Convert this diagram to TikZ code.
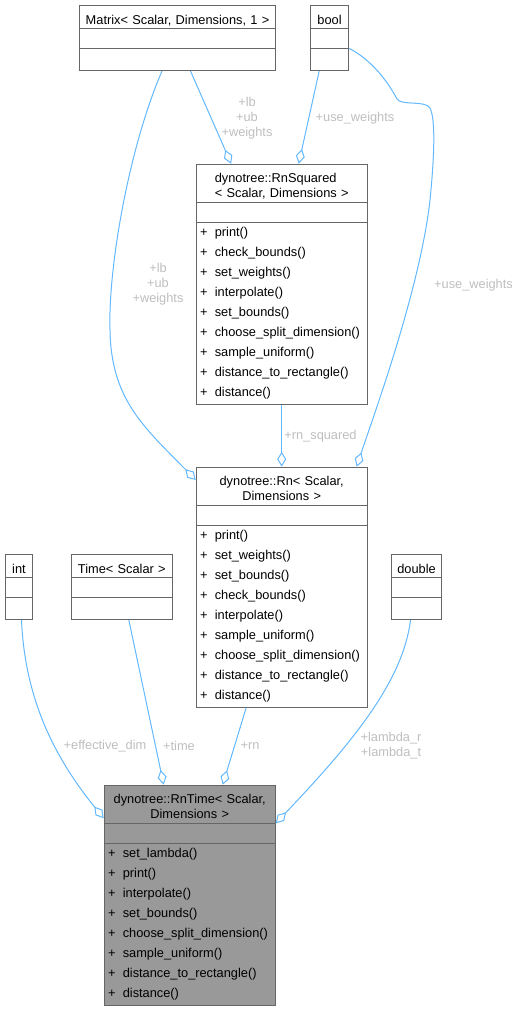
\documentclass[tikz,border=0pt]{standalone}
\usepackage{fontspec}
\setmainfont{Liberation Sans}
\usepackage{tikz}
\usetikzlibrary{shapes.multipart}
\usetikzlibrary{arrows.meta}
\setlength{\parindent}{0pt}
\setlength{\normallineskip}{0pt}
\setlength{\lineskip}{0pt}
\setlength{\lineskiplimit}{0pt}

\definecolor{boxline}{HTML}{666666}
\definecolor{boxfill}{HTML}{999999}
\definecolor{edgeblue}{HTML}{63B8FF}
\definecolor{lblgray}{HTML}{BEBEBE}

\newcommand{\clsone}[1]{\makebox[\hsize][c]{\rule[-3.5pt]{0pt}{21pt}#1}}
\newcommand{\clstwo}[2]{\makebox[\hsize][c]{\rule{0pt}{17.5pt}#1}\\\makebox[\hsize][c]{\rule[-3.5pt]{0pt}{3.5pt}#2}}
\newcommand{\clsemp}{\rule[-4pt]{0pt}{18pt}}
\newcommand{\clsend}{\rule[-4pt]{0pt}{20pt}}
\newcommand{\mplus}{\rule[-7pt]{0pt}{20pt}\makebox[14.6pt][l]{+}}

\tikzset{
  cls/.style={rectangle split, rectangle split parts=3, draw=boxline, line width=1pt, fill=white,
    inner xsep=4pt, inner ysep=0.5pt, align=left, anchor=north west,
    font={\fontsize{12.8}{15}\selectfont\lineskip=0pt\lineskiplimit=0pt\relax}},
  focus/.style={cls, fill=boxfill},
  edge/.style={draw=edgeblue, line width=1pt, -{Diamond[open, length=15pt, width=9pt]}},
  lbl/.style={text=lblgray, align=center, inner sep=0pt, font=\fontsize{12.8}{15}\selectfont},
}

\begin{document}
\begin{tikzpicture}[x=1pt, y=-1pt]
\useasboundingbox (0,0) rectangle (520,1010);
\node[cls, text width=188pt] (matrix) at (79,5) {\clsone{Matrix< Scalar, Dimensions, 1 >}\nodepart{two}\clsemp\nodepart{three}\clsend};
\node[cls, text width=30pt] (bool) at (310,5) {\clsone{bool}\nodepart{two}\clsemp\nodepart{three}\clsend};
\node[cls, text width=163pt] (rnsq) at (195.7,163.7) {\clstwo{\rlap{dynotree::RnSquared}\phantom{< Scalar, Dimensions >}}{< Scalar, Dimensions >}\nodepart{two}\clsemp\nodepart{three}%
  \mplus print()\\\mplus check\_bounds()\\\mplus set\_weights()\\\mplus interpolate()\\\mplus set\_bounds()\\%
  \mplus choose\_split\_dimension()\\\mplus sample\_uniform()\\\mplus distance\_to\_rectangle()\\\mplus distance()};
\node[cls, text width=163pt] (rn) at (195.7,466.7) {\clstwo{dynotree::Rn< Scalar,}{Dimensions >}\nodepart{two}\clsemp\nodepart{three}%
  \mplus print()\\\mplus set\_weights()\\\mplus set\_bounds()\\\mplus check\_bounds()\\\mplus interpolate()\\%
  \mplus sample\_uniform()\\\mplus choose\_split\_dimension()\\\mplus distance\_to\_rectangle()\\\mplus distance()};
\node[cls, text width=19pt] (int) at (5,554) {\clsone{int}\nodepart{two}\clsemp\nodepart{three}\clsend};
\node[cls, text width=93.3pt] (time) at (70.7,554) {\clsone{Time< Scalar >}\nodepart{two}\clsemp\nodepart{three}\clsend};
\node[cls, text width=42.7pt] (double) at (390.7,554) {\clsone{double}\nodepart{two}\clsemp\nodepart{three}\clsend};
\node[focus, text width=163pt] (rntime) at (103.7,784.7) {\clstwo{dynotree::RnTime< Scalar,}{Dimensions >}\nodepart{two}\clsemp\nodepart{three}%
  \mplus set\_lambda()\\\mplus print()\\\mplus interpolate()\\\mplus set\_bounds()\\%
  \mplus choose\_split\_dimension()\\\mplus sample\_uniform()\\\mplus distance\_to\_rectangle()\\\mplus distance()};

\draw[edge] ([xshift=13pt]matrix.south) -- ([xshift=-50.5pt]rnsq.north);
\draw[edge] ([xshift=-10.3pt]bool.south) -- ([xshift=17pt]rnsq.north);
\draw[edge] ([xshift=-15.5pt]matrix.south) .. controls (128,150) and (108,270) .. (110,330)
  .. controls (111,400) and (145,428) .. ([yshift=-13.3pt]rn.north west);
\draw[edge] ([yshift=-43.3pt]bool.north east) .. controls (372,60) and (388,82) .. (397,99)
  .. controls (402,106) and (425,100) .. (430,108) .. controls (436,120) and (434,160) .. (430,200)
  .. controls (420,290) and (372,420) .. ([xshift=75pt]rn.north);
\draw[edge] (rnsq.south) -- (rn.north);
\draw[edge] ([xshift=2.5pt]int.south) .. controls (25,700) and (55,758) .. ([yshift=-33.6pt]rntime.north west);
\draw[edge] ([xshift=7pt]time.south) -- ([xshift=-26pt]rntime.north);
\draw[edge] ([xshift=-35.5pt]rn.south) -- ([xshift=33pt]rntime.north);
\draw[edge] ([xshift=-6pt]double.south) .. controls (403,680) and (355,740) .. ([yshift=-38.6pt]rntime.north east);

\node[lbl] (lmatsq) at (247,118) {+lb\\+ub\\+weights};
\node[lbl] (lboolsq) at (355,118) {+use\_weights};
\node[lbl] (lmatrn) at (158,284) {+lb\\+ub\\+weights};
\node[lbl] (lboolrn) at (473.5,285) {+use\_weights};
\node[lbl] (lsq) at (320.5,436) {+rn\_squared};
\node[lbl] (lint) at (105,746) {+effective\_dim};
\node[lbl] (ltime) at (179,746) {+time};
\node[lbl] (lrn) at (250,746) {+rn};
\node[lbl] (ldbl) at (391,746) {+lambda\_r\\+lambda\_t};
\end{tikzpicture}
\end{document}
